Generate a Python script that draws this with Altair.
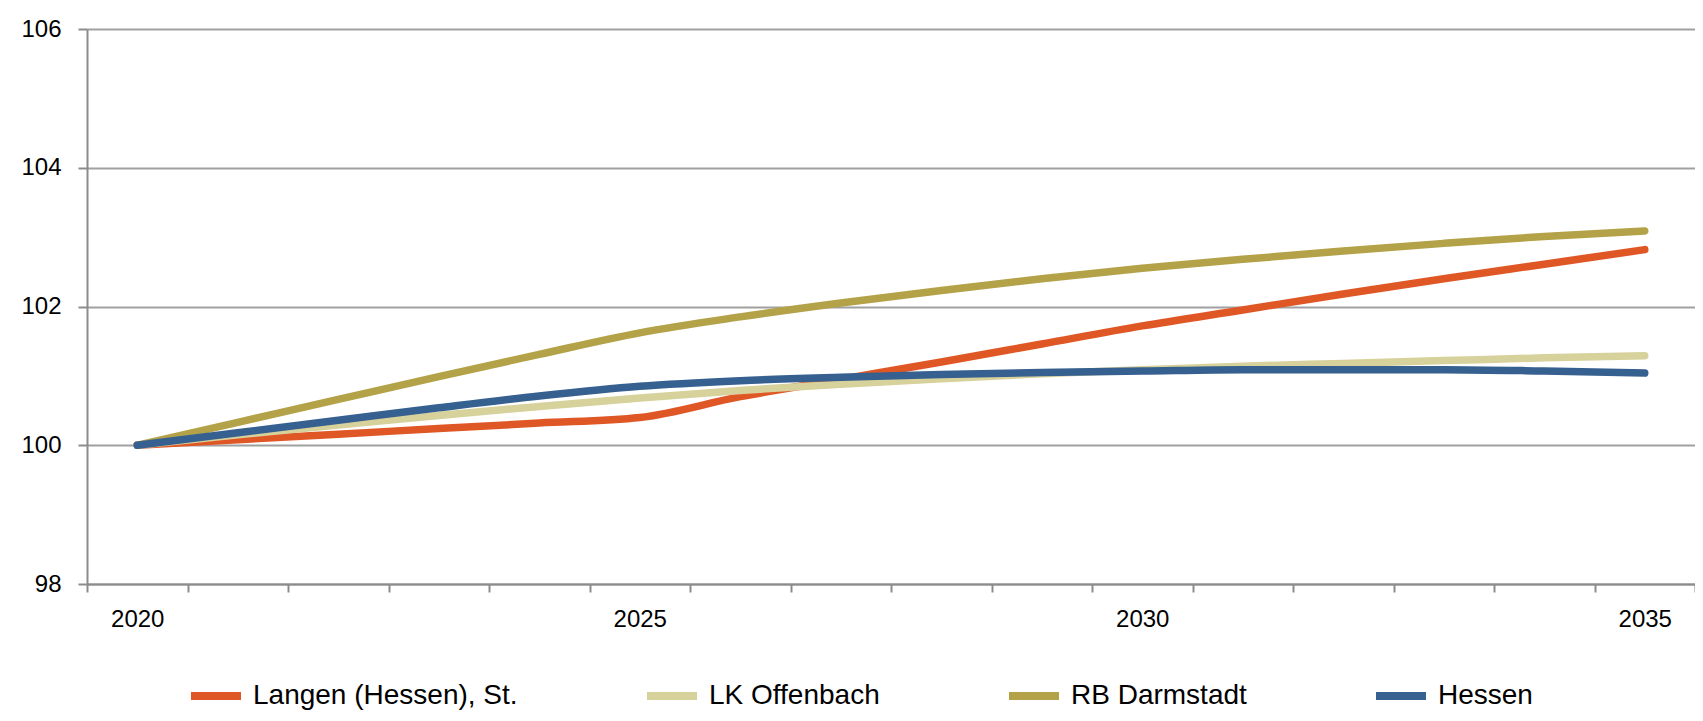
import altair as alt
import pandas as pd

years = list(range(2020, 2036))
series_names = ["Langen (Hessen), St.", "LK Offenbach", "RB Darmstadt", "Hessen"]
langen = [100.00, 100.08, 100.16, 100.24, 100.32, 100.40, 100.70, 100.95, 101.20, 101.46, 101.72, 101.95, 102.18, 102.40, 102.61, 102.82]
lk_offenbach = [100.00, 100.15, 100.29, 100.43, 100.56, 100.68, 100.79, 100.88, 100.96, 101.03, 101.09, 101.14, 101.18, 101.22, 101.26, 101.29]
rb_darmstadt = [100.00, 100.33, 100.66, 100.99, 101.31, 101.62, 101.85, 102.05, 102.23, 102.40, 102.55, 102.68, 102.80, 102.91, 103.01, 103.09]
hessen = [100.00, 100.18, 100.36, 100.54, 100.71, 100.85, 100.93, 100.98, 101.02, 101.05, 101.07, 101.09, 101.09, 101.09, 101.07, 101.04]
colors = ["#E05726", "#D7D19B", "#B3A247", "#35608F"]
y_ticks = [98, 100, 102, 104, 106]

rows = []
for name, vals in zip(series_names, [langen, lk_offenbach, rb_darmstadt, hessen]):
    for yr, v in zip(years, vals):
        rows.append({"Jahr": yr, "Wert": v, "Reihe": name})
df = pd.DataFrame(rows)

FONT = "Liberation Sans, Arial, sans-serif"
W, H = 1608, 555
GRAY = "#A0A0A0"

x_enc = alt.X(
    "Jahr:O",
    sort=years,
    scale=alt.Scale(type="band", paddingInner=0, paddingOuter=0),
    axis=alt.Axis(
        labelExpr="datum.value % 5 == 0 ? datum.label : ''",
        labelAngle=0,
        tickBand="extent",
        labelOverlap=False,
        labelPadding=15,
        labelFontSize=24,
        labelFont=FONT,
        labelColor="#000000",
        tickSize=8,
        tickWidth=2,
        tickColor="#8C8C8C",
        domainColor="#8C8C8C",
        domainWidth=2,
        grid=False,
        title=None,
    ),
)
y_enc = alt.Y(
    "Wert:Q",
    scale=alt.Scale(domain=[98, 106], nice=False, zero=False),
    axis=alt.Axis(
        values=y_ticks,
        format="d",
        labelFontSize=24,
        labelFont=FONT,
        labelColor="#000000",
        labelPadding=17,
        tickSize=9,
        tickWidth=2,
        tickColor="#8C8C8C",
        domainColor="#8C8C8C",
        domainWidth=2,
        grid=True,
        gridColor=GRAY,
        gridWidth=2,
        title=None,
    ),
)
color_enc = alt.Color(
    "Reihe:N",
    scale=alt.Scale(domain=series_names, range=colors),
    legend=alt.Legend(
        title=None,
        orient="none",
        direction="horizontal",
        legendX=100,
        legendY=638,
        symbolType="stroke",
        symbolSize=2500,
        symbolStrokeWidth=8,
        labelFontSize=28,
        labelFont=FONT,
        labelColor="#000000",
        labelOffset=8,
        columnPadding=113,
        labelLimit=600,
    ),
)

layers = []
for name in series_names:
    layers.append(
        alt.Chart(df)
        .transform_filter(alt.datum.Reihe == name)
        .mark_line(strokeWidth=7.5, interpolate="monotone", strokeCap="round", strokeJoin="round")
        .encode(x=x_enc, y=y_enc, color=color_enc)
    )

chart = (
    alt.layer(*layers)
    .properties(
        width=W,
        height=H,
        autosize=alt.AutoSizeParams(type="none"),
        padding={"left": 79, "top": 21, "right": 0, "bottom": 129},
    )
    .configure_view(stroke=None)
    .configure(background="white")
)

chart.save("out.html", embed_options={"renderer": "svg", "actions": False})
